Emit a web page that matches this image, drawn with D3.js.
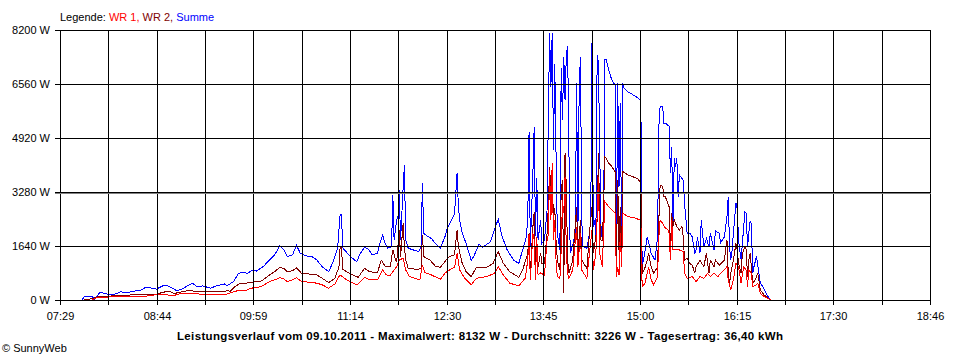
<!DOCTYPE html>
<html><head><meta charset="utf-8">
<script src="https://cdnjs.cloudflare.com/ajax/libs/d3/7.8.5/d3.min.js"></script>
<style>
body{margin:0;background:#fff}
svg{display:block}
text{font-family:"Liberation Sans",Arial,sans-serif;}
</style>
</head><body>
<svg id="c" width="960" height="360"></svg>
<script>
// ---- data ----
const yTicks = [0, 1640, 3280, 4920, 6560, 8200];
const xTickLabels = ["07:29","08:44","09:59","11:14","12:30","13:45","15:00","16:15","17:30","18:46"];
const average = 3226;
const titleText = "Leistungsverlauf vom 09.10.2011 - Maximalwert: 8132 W - Durchschnitt: 3226 W - Tagesertrag: 36,40 kWh";
const legendItems = [["Legende: ","#000000"],["WR 1, ","#ff0000"],["WR 2, ","#800000"],["Summe","#0000ff"]];
const seriesNames = ["Summe","WR 2","WR 1"];
const seriesColors = ["#0000ff","#800000","#ff0000"];

const summe = [["07:46",0],["07:48",100],["07:54",100],["07:56",30],["08:00",230],["08:03",210],["08:06",180],["08:12",180],["08:16",250],["08:21",220],["08:26",270],["08:31",280],["08:35",370],["08:39",370],["08:44",330],["08:49",430],["08:52",450],["08:56",370],["09:00",280],["09:04",330],["09:09",450],["09:12",510],["09:16",400],["09:20",430],["09:26",360],["09:31",430],["09:37",490],["09:39",430],["09:44",560],["09:48",810],["09:51",840],["09:55",810],["09:58",890],
["10:02",880],["10:07",1010],["10:12",1210],["10:16",1370],["10:20",1640],["10:23",1540],["10:26",1320],["10:30",1370],["10:33",1660],["10:36",1420],["10:40",1340],["10:45",1320],["10:49",1210],["10:53",1010],["10:58",860],["11:01",1110],["11:05",1570],["11:07",2610],["11:08",2610],["11:09",1580],["11:15",1320],["11:20",1160],["11:22",1370],["11:26",1600],["11:29",1540],["11:32",1370],["11:36",1420],["11:38",1720],["11:40",1970],["11:42",1730],["11:44",1570],["11:47",1620],["11:48",3190],["11:49",1820],["11:51",2430],["11:52",2530],["11:53",3340],["11:54",1820],["11:56",3390],["11:57",4100],["11:58",1820],
["12:00",1570],["12:04",1520],["12:08",1470],["12:10",1620],["12:11",3560],["12:12",2030],["12:15",1930],["12:18",1870],["12:21",1720],["12:25",1580],["12:29",1970],["12:30",2130],["12:36",2620],["12:38",3850],["12:39",2830],["12:40",2430],["12:42",2030],["12:45",1720],["12:49",1210],["12:51",1320],["12:55",1700],["12:58",1600],["13:04",1770],["13:07",2130],["13:10",2450],["13:13",1930],["13:17",1520],["13:22",1210],["13:26",1110],["13:29",1520],["13:32",1930],["13:33",2530],["13:34",5110],["13:35",1620],["13:37",3850],["13:38",5260],["13:39",1930],["13:40",3690],["13:41",1820],["13:43",2430],["13:44",1720],["13:46",1820],["13:48",2730],["13:49",5570],["13:50",8100],["13:51",6480],["13:52",8100],["13:53",4560],["13:54",7170],["13:55",4450],["13:56",2030],["13:58",1520],["13:59",7040],
["14:00",5470],["14:01",7390],["14:02",6070],["14:03",7440],["14:04",7710],["14:05",4660],["14:06",1420],["14:08",1670],["14:10",2030],["14:11",6580],["14:12",1920],["14:13",6480],["14:14",7390],["14:15",2430],["14:16",1620],["14:19",1570],["14:21",2030],["14:22",2430],["14:23",7840],["14:24",2230],["14:25",2430],["14:26",1920],["14:27",7440],["14:28",7190],["14:29",4450],["14:30",2230],["14:31",1820],["14:32",2230],["14:33",7290],["14:34",7290],["14:36",6990],["14:38",6730],["14:40",6580],["14:41",6530],["14:42",1920],["14:43",6580],["14:44",3440],["14:45",5970],["14:46",1920],["14:47",6580],["14:48",6430],["14:51",6320],["14:55",6230],["14:59",6130],["15:01",6050],["15:02",1010],["15:04",1420],["15:06",1920],["15:09",1420],["15:12",1210],["15:14",1920],["15:15",5260],["15:16",5890],["15:17",5890],["15:18",5870],["15:19",5370],["15:20",5370],["15:23",5280],["15:24",3850],["15:25",4660],["15:26",2230],["15:27",4300],["15:28",4050],["15:29",4300],["15:30",3140],["15:31",3800],["15:34",3640],["15:35",2940],["15:37",2030],["15:39",2030],["15:41",1920],["15:43",1420],["15:44",1520],["15:45",1920],["15:47",1420],["15:48",2430],["15:50",1620],["15:52",1870],["15:54",1620],["15:55",2030],["15:58",1520],["15:59",2100],
["16:02",2030],["16:03",1740],["16:06",1920],["16:08",2530],["16:09",3140],["16:10",1620],["16:11",1210],["16:12",1520],["16:13",2030],["16:15",2940],["16:16",2780],["16:17",1820],["16:19",1210],["16:20",1720],["16:22",2680],["16:23",2630],["16:24",1620],["16:25",2030],["16:26",2380],["16:27",2330],["16:28",810],["16:29",1010],["16:31",1320],["16:32",1060],["16:34",510],["16:36",400],["16:39",150],["16:41",50],["16:42",0]];

const wr2 = [["07:48",0],["07:55",50],["08:00",120],["08:08",120],["08:21",140],["08:29",180],["08:39",180],["08:44",180],["08:47",210],["08:51",250],["08:55",250],["08:58",200],["09:02",230],["09:08",280],["09:12",280],["09:14",240],["09:18",270],["09:23",270],["09:28",260],["09:37",260],["09:40",300],["09:41",250],["09:45",400],["09:49",510],["09:54",510],["09:58",540],
["10:05",560],["10:08",640],["10:12",760],["10:16",860],["10:20",990],["10:23",960],["10:26",860],["10:30",890],["10:33",980],["10:37",810],["10:43",790],["10:49",760],["10:53",660],["10:58",530],["11:03",660],["11:05",890],["11:06",960],["11:07",1620],["11:08",1620],["11:09",940],["11:12",860],["11:17",760],["11:21",690],["11:26",960],["11:30",860],["11:36",830],["11:39",1210],["11:42",1030],["11:46",1010],["11:48",1520],["11:50",1240],["11:51",1150],["11:53",2130],["11:54",1320],["11:56",2330],["11:57",1620],["11:58",1210],
["12:00",960],["12:07",930],["12:10",960],["12:11",1970],["12:12",1320],["12:17",1210],["12:21",1030],["12:25",990],["12:29",1190],["12:32",1320],["12:36",1370],["12:38",2130],["12:39",1620],["12:42",1110],["12:45",860],["12:49",710],["12:53",990],["13:01",990],["13:06",1110],["13:10",1470],["13:14",1110],["13:19",860],["13:26",690],["13:29",910],["13:33",1420],["13:34",2030],["13:35",810],["13:37",2230],["13:38",2680],["13:39",1010],["13:40",1620],["13:41",1010],["13:43",1430],["13:44",1120],["13:46",1110],["13:48",2030],["13:49",2830],["13:50",4050],["13:51",3200],["13:52",3800],["13:53",2430],["13:54",2800],["13:55",1820],["13:56",1210],["13:58",910],["13:59",3340],
["14:00",3640],["14:01",200],["14:02",4450],["14:03",3440],["14:04",1210],["14:05",810],["14:08",1210],["14:11",2830],["14:12",1420],["14:14",2430],["14:15",1210],["14:19",960],["14:21",2030],["14:23",2830],["14:24",1420],["14:26",1920],["14:27",2430],["14:28",4450],["14:29",2430],["14:30",1820],["14:31",1820],["14:32",2830],["14:33",4350],["14:34",4310],["14:36",4150],["14:38",4070],["14:40",3950],["14:41",3900],["14:42",1210],["14:43",3640],["14:44",1520],["14:45",2830],["14:46",1420],["14:47",3900],["14:48",3870],["14:51",3800],["14:55",3740],["14:59",3670],["15:01",3540],["15:02",810],["15:04",960],["15:06",1210],["15:07",1420],["15:09",1010],["15:11",810],["15:14",1010],["15:15",2430],["15:16",3490],["15:17",3490],["15:18",3440],["15:19",3140],["15:20",3140],["15:23",2830],["15:24",1520],["15:25",2630],["15:26",2230],["15:27",2430],["15:29",2230],["15:31",2130],["15:33",2230],["15:34",1920],["15:35",1210],["15:37",1270],["15:39",1110],["15:41",1060],["15:43",810],["15:44",1010],["15:47",1210],["15:50",1010],["15:52",1420],["15:54",810],["15:55",1210],["15:58",1010],["15:59",1210],
["16:02",1060],["16:06",1210],["16:08",1820],["16:09",810],["16:10",510],["16:11",810],["16:13",1210],["16:15",1720],["16:16",1520],["16:17",1110],["16:19",810],["16:20",1420],["16:22",1620],["16:23",1520],["16:24",710],["16:25",1210],["16:26",1420],["16:27",1010],["16:28",510],["16:30",610],["16:32",810],["16:34",300],["16:37",150],["16:41",20],["16:42",0]];

const wr1 = [["07:54",0],["07:58",80],["08:06",80],["08:08",110],["08:23",110],["08:35",110],["08:44",160],["08:52",160],["08:55",140],["08:58",140],["09:02",190],["09:12",190],["09:18",180],["09:39",180],["09:40",200],["09:44",250],["09:49",300],["09:54",300],["09:58",360],
["10:05",400],["10:08",460],["10:12",560],["10:16",610],["10:20",680],["10:23",640],["10:26",560],["10:30",610],["10:33",680],["10:37",560],["10:43",540],["10:49",510],["10:53",460],["10:58",360],["11:03",490],["11:06",710],["11:07",760],["11:10",670],["11:12",610],["11:16",540],["11:20",460],["11:22",520],["11:26",690],["11:30",610],["11:36",610],["11:40",910],["11:43",760],["11:46",750],["11:48",860],["11:51",1010],["11:53",1210],["11:56",1270],["11:58",910],
["12:01",710],["12:09",610],["12:11",1060],["12:13",830],["12:18",760],["12:25",630],["12:29",830],["12:32",910],["12:36",990],["12:38",1420],["12:40",910],["12:44",660],["12:49",460],["12:53",660],["13:01",710],["13:07",810],["13:10",1010],["13:14",760],["13:19",510],["13:26",430],["13:31",660],["13:33",1210],["13:34",2000],["13:35",610],["13:37",2030],["13:38",1820],["13:39",610],["13:40",1920],["13:41",760],["13:43",820],["13:46",760],["13:48",1820],["13:49",2000],["13:50",3950],["13:51",2430],["13:52",4150],["13:53",1820],["13:54",2430],["13:55",1210],["13:56",710],["13:58",660],["13:59",1520],
["14:00",3040],["14:01",2630],["14:02",3740],["14:03",1420],["14:04",810],["14:05",660],["14:08",910],["14:11",2230],["14:12",1010],["14:14",2030],["14:15",910],["14:19",660],["14:21",1420],["14:23",2130],["14:24",910],["14:26",1420],["14:28",3740],["14:29",1420],["14:31",1010],["14:32",2030],["14:33",2990],["14:36",2830],["14:40",2680],["14:41",2630],["14:42",710],["14:43",1010],["14:44",760],["14:45",2030],["14:46",1010],["14:47",2630],["14:51",2530],["14:55",2510],["14:59",2450],["15:01",2430],["15:02",400],["15:04",490],["15:06",810],["15:07",1010],["15:09",610],["15:11",460],["15:14",710],["15:15",1920],["15:16",2430],["15:18",2330],["15:20",2190],["15:22",2130],["15:23",2030],["15:24",1210],["15:25",2430],["15:26",1520],["15:27",1520],["15:31",1520],["15:34",1470],["15:35",810],["15:37",660],["15:41",710],["15:44",560],["15:47",710],["15:50",660],["15:53",810],["15:55",710],["15:58",810],
["16:01",710],["16:03",810],["16:08",1010],["16:09",610],["16:11",300],["16:13",610],["16:15",1110],["16:17",1010],["16:19",510],["16:21",1010],["16:23",910],["16:24",400],["16:25",910],["16:27",810],["16:28",400],["16:31",460],["16:32",510],["16:34",200],["16:37",100],["16:41",20],["16:42",0]];

// ---- chart ----
const svg = d3.select("#c");
const FONT = '"Liberation Sans",Arial,sans-serif';
const toMin = s => { const p = s.split(":").map(Number); return p[0]*60 + p[1]; };

const t0 = toMin(xTickLabels[0]), t1 = toMin(xTickLabels[xTickLabels.length-1]);
const x = d3.scaleLinear().domain([t0, t1]).range([60, 930]);
const y = d3.scaleLinear().domain([0, 8200]).range([300, 30]);
const xr = x.copy().interpolate(d3.interpolateRound);
const yr = y.copy().interpolate(d3.interpolateRound);

const nTicks = (xTickLabels.length - 1) * 2;
const xTickVals = d3.range(nTicks + 1).map(i => t0 + i * (t1 - t0) / nTicks);

// data lines
const line = d3.line().x(d => x(toMin(d[0]))).y(d => y(d[1]));
const allSeries = [summe, wr2, wr1];
svg.append("g").selectAll("path").data(allSeries).join("path")
  .attr("d", line)
  .attr("fill", "none")
  .attr("stroke", (d, i) => seriesColors[i])
  .attr("stroke-width", 1)
  .attr("shape-rendering", "crispEdges")
  .attr("stroke-linejoin", "miter");

// grid (on top, as in reference)
const grid = svg.append("g").attr("shape-rendering", "crispEdges");
grid.selectAll("line.v").data(xTickVals).join("line").attr("class","v")
  .attr("x1", d => xr(d) + 0.5).attr("x2", d => xr(d) + 0.5)
  .attr("y1", yr(8200)).attr("y2", yr(0) + 1)
  .attr("stroke", "#000");
grid.selectAll("line.h").data(yTicks).join("line").attr("class","h")
  .attr("x1", xr.range()[0]).attr("x2", xr.range()[1] + 1)
  .attr("y1", d => yr(d) + 0.5).attr("y2", d => yr(d) + 0.5)
  .attr("stroke", "#000");

// average line
svg.append("line")
  .attr("x1", xr.range()[0] - 5).attr("x2", xr.range()[1] + 1)
  .attr("y1", Math.floor(y(average)) + 0.5).attr("y2", Math.floor(y(average)) + 0.5)
  .attr("stroke", "#808080").attr("shape-rendering", "crispEdges");

// axes
const yAxis = d3.axisLeft(yr).tickValues(yTicks).tickSize(5).tickPadding(5).tickFormat(d => d + " W");
const gy = svg.append("g").attr("transform", "translate(60,0)").call(yAxis);
const xAxis = d3.axisBottom(xr).tickValues(xTickVals).tickSize(5).tickPadding(7)
  .tickFormat((d, i) => i % 2 === 0 ? xTickLabels[i / 2] : "");
const gx = svg.append("g").attr("transform", "translate(0,300)").call(xAxis);
[gx, gy].forEach(g => {
  g.select(".domain").remove();
  g.attr("font-family", FONT).attr("font-size", 11);
  g.selectAll(".tick line").attr("stroke", "#000").attr("shape-rendering", "crispEdges");
  g.selectAll(".tick text").attr("fill", "#000");
});

// legend
const lg = svg.append("text").attr("x", 60).attr("y", 21)
  .attr("font-size", 11).attr("font-family", FONT);
lg.selectAll("tspan").data(legendItems).join("tspan")
  .attr("fill", d => d[1]).attr("xml:space", "preserve").style("white-space", "pre").text(d => d[0]);

// title
svg.append("text").attr("x", 177).attr("y", 340)
  .attr("font-size", 11.5).attr("font-weight", "bold").attr("font-family", FONT)
  .attr("textLength", 606).attr("lengthAdjust", "spacing")
  .text(titleText);

// copyright
svg.append("text").attr("x", 2).attr("y", 352)
  .attr("font-size", 11).attr("font-family", FONT)
  .text("\u00a9 SunnyWeb");
</script>
</body></html>
